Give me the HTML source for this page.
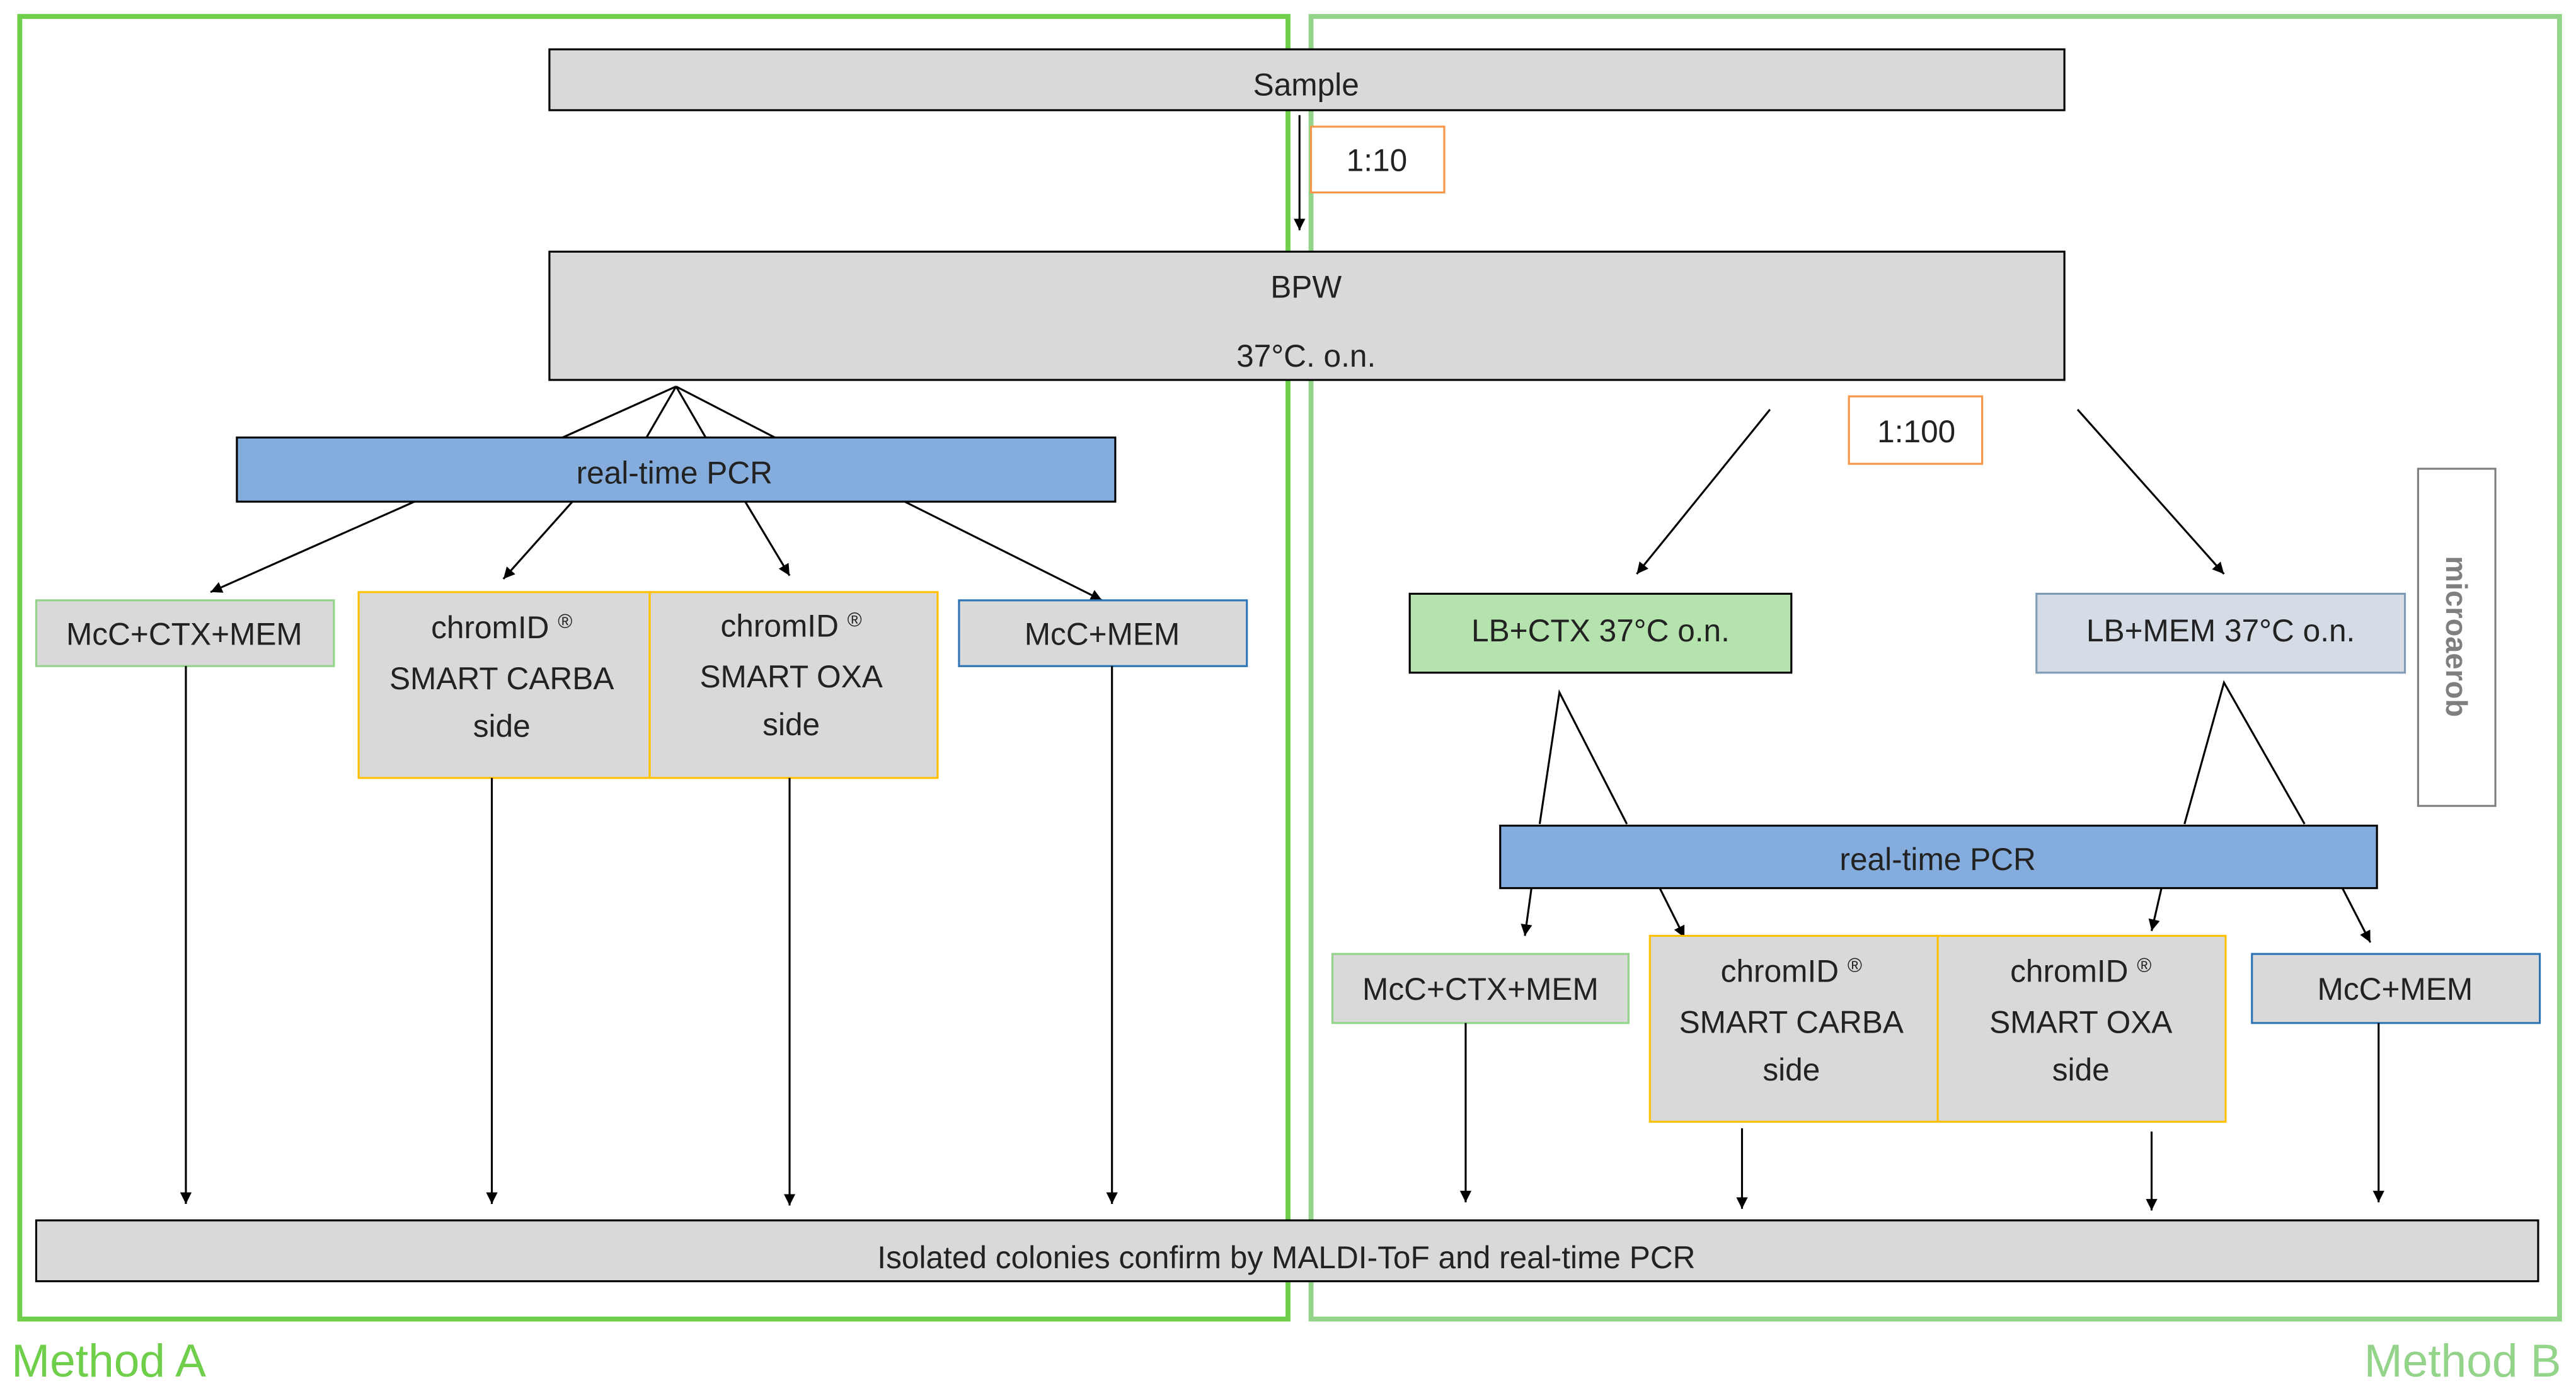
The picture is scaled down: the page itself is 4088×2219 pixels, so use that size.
<!DOCTYPE html>
<html><head><meta charset="utf-8"><style>
html,body{margin:0;padding:0;background:#fff;}
svg{display:block;}
text{font-family:"Liberation Sans",sans-serif;fill:#222;}
</style></head><body>
<svg width="4088" height="2219" viewBox="0 0 1566 850" preserveAspectRatio="none" xmlns="http://www.w3.org/2000/svg">
<defs>
<marker id="ar" viewBox="0 0 10 10" refX="10" refY="5" markerWidth="7" markerHeight="7" markerUnits="userSpaceOnUse" orient="auto">
<path d="M0,0 L10,5 L0,10 z" fill="#000"/></marker>
</defs>
<rect x="0" y="0" width="1566" height="850" fill="#fff"/>
<rect x="12" y="10" width="771" height="792" fill="none" stroke="#6fcf4a" stroke-width="3"/>
<rect x="797" y="10" width="759" height="792" fill="none" stroke="#93d38a" stroke-width="3"/>
<text x="7" y="837" font-size="28" style="fill:#6fcf4a">Method A</text>
<text x="1557" y="837" font-size="28" text-anchor="end" style="fill:#93d38a">Method B</text>

<g font-size="19" text-anchor="middle">
<rect x="334" y="30" width="921" height="37" fill="#d9d9d9" stroke="#000" stroke-width="1.2"/>
<text x="794" y="58">Sample</text>
<rect x="797" y="77" width="81" height="40" fill="#fff" stroke="#f79646" stroke-width="1.2"/>
<text x="837" y="104">1:10</text>
<line x1="790" y1="70" x2="790" y2="140" stroke="#000" stroke-width="1.2" marker-end="url(#ar)"/>
<rect x="334" y="153" width="921" height="78" fill="#d9d9d9" stroke="#000" stroke-width="1.2"/>
<text x="794" y="181">BPW</text>
<text x="794" y="223">37°C. o.n.</text>
<g stroke="#000" stroke-width="1.2">
<line x1="411" y1="235" x2="342" y2="266"/>
<line x1="411" y1="235" x2="393" y2="266"/>
<line x1="411" y1="235" x2="429" y2="266"/>
<line x1="411" y1="235" x2="471" y2="266"/>
</g>
<rect x="144" y="266" width="534" height="39" fill="#84acdc" stroke="#000" stroke-width="1.2"/>
<text x="410" y="294">real-time PCR</text>
<g stroke="#000" stroke-width="1.2" marker-end="url(#ar)">
<line x1="252" y1="305" x2="128" y2="360"/>
<line x1="348" y1="305" x2="306" y2="352"/>
<line x1="453" y1="305" x2="480" y2="350"/>
<line x1="550" y1="305" x2="670" y2="365"/>
</g>
<rect x="22" y="365" width="181" height="40" fill="#d9d9d9" stroke="#93d38a" stroke-width="1.2"/>
<text x="112" y="392">McC+CTX+MEM</text>
<rect x="218" y="360" width="177" height="113" fill="#d9d9d9" stroke="#ffc000" stroke-width="1.2"/>
<rect x="395" y="360" width="175" height="113" fill="#d9d9d9" stroke="#ffc000" stroke-width="1.2"/>
<text x="305" y="388">chromID <tspan font-size="12" dy="-6">®</tspan></text>
<text x="305" y="419">SMART CARBA</text>
<text x="305" y="448">side</text>
<text x="481" y="387">chromID <tspan font-size="12" dy="-6">®</tspan></text>
<text x="481" y="418">SMART OXA</text>
<text x="481" y="447">side</text>
<rect x="583" y="365" width="175" height="40" fill="#d9d9d9" stroke="#2e75b6" stroke-width="1.2"/>
<text x="670" y="392">McC+MEM</text>
<g stroke="#000" stroke-width="1.2" marker-end="url(#ar)">
<line x1="113" y1="405" x2="113" y2="732"/>
<line x1="299" y1="473" x2="299" y2="732"/>
<line x1="480" y1="473" x2="480" y2="733"/>
<line x1="676" y1="405" x2="676" y2="732"/>
</g>
<rect x="1124" y="241" width="81" height="41" fill="#fff" stroke="#f79646" stroke-width="1.2"/>
<text x="1165" y="269">1:100</text>
<g stroke="#000" stroke-width="1.2" marker-end="url(#ar)">
<line x1="1076" y1="249" x2="995" y2="349"/>
<line x1="1263" y1="249" x2="1352" y2="349"/>
</g>
<rect x="857" y="361" width="232" height="48" fill="#b5e3ae" stroke="#000" stroke-width="1.2"/>
<text x="973" y="390">LB+CTX 37°C o.n.</text>
<rect x="1238" y="361" width="224" height="48" fill="#d6dce5" stroke="#7f9bb5" stroke-width="1.2"/>
<text x="1350" y="390">LB+MEM 37°C o.n.</text>
<rect x="1470" y="285" width="47" height="205" fill="#fff" stroke="#7f7f7f" stroke-width="1.2"/>
<text x="1487" y="387" font-weight="bold" font-size="18" transform="rotate(90 1487 387)" style="fill:#7f7f7f">microaerob</text>
<g stroke="#000" stroke-width="1.2" fill="none">
<polyline points="936,501 948,421 989,501"/>
<polyline points="1328,501 1352,415 1401,501"/>
</g>
<rect x="912" y="502" width="533" height="38" fill="#84acdc" stroke="#000" stroke-width="1.2"/>
<text x="1178" y="529">real-time PCR</text>
<g stroke="#000" stroke-width="1.2" marker-end="url(#ar)">
<line x1="931" y1="540" x2="927" y2="569"/>
<line x1="1009" y1="540" x2="1024" y2="570"/>
<line x1="1314" y1="540" x2="1308" y2="566"/>
<line x1="1424" y1="540" x2="1441" y2="573"/>
</g>
<rect x="810" y="580" width="180" height="42" fill="#d9d9d9" stroke="#93d38a" stroke-width="1.2"/>
<text x="900" y="608">McC+CTX+MEM</text>
<rect x="1003" y="569" width="175" height="113" fill="#d9d9d9" stroke="#ffc000" stroke-width="1.2"/>
<rect x="1178" y="569" width="175" height="113" fill="#d9d9d9" stroke="#ffc000" stroke-width="1.2"/>
<text x="1089" y="597">chromID <tspan font-size="12" dy="-6">®</tspan></text>
<text x="1089" y="628">SMART CARBA</text>
<text x="1089" y="657">side</text>
<text x="1265" y="597">chromID <tspan font-size="12" dy="-6">®</tspan></text>
<text x="1265" y="628">SMART OXA</text>
<text x="1265" y="657">side</text>
<rect x="1369" y="580" width="175" height="42" fill="#d9d9d9" stroke="#2e75b6" stroke-width="1.2"/>
<text x="1456" y="608">McC+MEM</text>
<g stroke="#000" stroke-width="1.2" marker-end="url(#ar)">
<line x1="891" y1="622" x2="891" y2="731"/>
<line x1="1059" y1="686" x2="1059" y2="735"/>
<line x1="1308" y1="688" x2="1308" y2="736"/>
<line x1="1446" y1="622" x2="1446" y2="731"/>
</g>
<rect x="22" y="742" width="1521" height="37" fill="#d9d9d9" stroke="#000" stroke-width="1.2"/>
<text x="782" y="771">Isolated colonies confirm by MALDI-ToF and real-time PCR</text>
</g>
</svg>
</body></html>
